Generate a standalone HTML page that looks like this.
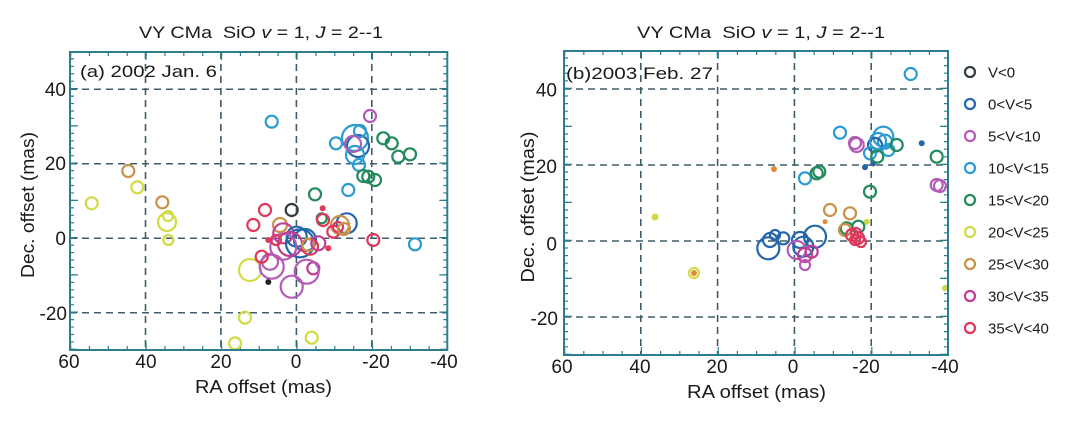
<!DOCTYPE html>
<html><head><meta charset="utf-8">
<style>
html,body{margin:0;padding:0;background:#fff;}
svg{display:block;}
text{font-family:"Liberation Sans",Arial,sans-serif;fill:#1a1a1a;}
.fr{fill:none;stroke:#2c7d8e;stroke-width:2;}
.tk{stroke:#2c7d8e;fill:none;}
.gd{stroke:#3f5d68;stroke-width:1.6;stroke-dasharray:7 5;fill:none;}
circle{fill:none;stroke-width:2.2;}
.k{stroke:#343c3c}.b{stroke:#2466aa}.p{stroke:#b25cb8}.c{stroke:#2b9bd2}.g{stroke:#228a5c}
.y{stroke:#d2da46}.o{stroke:#c8924a}.m{stroke:#c23c92}.r{stroke:#e0385a}
.kf{fill:#222;stroke:none}.bf{fill:#2466aa;stroke:none}.rf{fill:#e0385a;stroke:none}.of{fill:#e08a3a;stroke:none}.yf{fill:#d2d646;stroke:none}
</style></head>
<body>
<svg width="1075" height="423" viewBox="0 0 1075 423" xmlns="http://www.w3.org/2000/svg">
<rect width="1075" height="423" fill="#fff"/>

<!-- ================= LEFT PANEL ================= -->
<text x="139" y="38" font-size="17" textLength="244" lengthAdjust="spacingAndGlyphs" xml:space="preserve">VY CMa  SiO <tspan font-style="italic">v</tspan> = 1, <tspan font-style="italic">J</tspan> = 2--1</text>

<line class="gd" x1="145.5" y1="52" x2="145.5" y2="350"/>
<line class="gd" x1="220.9" y1="52" x2="220.9" y2="350"/>
<line class="gd" x1="296.4" y1="52" x2="296.4" y2="350"/>
<line class="gd" x1="371.8" y1="52" x2="371.8" y2="350"/>
<line class="gd" x1="70" y1="89.25" x2="447.3" y2="89.25"/>
<line class="gd" x1="70" y1="163.75" x2="447.3" y2="163.75"/>
<line class="gd" x1="70" y1="238.25" x2="447.3" y2="238.25"/>
<line class="gd" x1="70" y1="312.75" x2="447.3" y2="312.75"/>

<line class="tk" x1="72" y1="350" x2="72" y2="52" stroke-width="4" stroke-dasharray="1.2 6.25"/>
<line class="tk" x1="74" y1="350" x2="74" y2="52" stroke-width="8" stroke-dasharray="1.2 36.05"/>
<line class="tk" x1="445.3" y1="350" x2="445.3" y2="52" stroke-width="4" stroke-dasharray="1.2 6.25"/>
<line class="tk" x1="443.3" y1="350" x2="443.3" y2="52" stroke-width="8" stroke-dasharray="1.2 36.05"/>
<line class="tk" x1="70" y1="54" x2="447.3" y2="54" stroke-width="4" stroke-dasharray="1.2 17.67"/>
<line class="tk" x1="70" y1="56" x2="447.3" y2="56" stroke-width="8" stroke-dasharray="1.2 74.26"/>
<line class="tk" x1="70" y1="348" x2="447.3" y2="348" stroke-width="4" stroke-dasharray="1.2 17.67"/>
<line class="tk" x1="70" y1="346" x2="447.3" y2="346" stroke-width="8" stroke-dasharray="1.2 74.26"/>

<text x="80" y="77" font-size="17" textLength="137" lengthAdjust="spacingAndGlyphs">(a) 2002 Jan. 6</text>

<circle class="c" cx="271.7" cy="121.7" r="6"/>
<circle class="p" cx="370" cy="116" r="6"/>
<circle class="c" cx="336" cy="143.3" r="6"/>
<circle class="c" cx="355" cy="138" r="13"/>
<circle class="b" cx="358" cy="146" r="11"/>
<circle class="c" cx="355" cy="155" r="9"/>
<circle class="c" cx="360" cy="131" r="6"/>
<circle class="p" cx="353" cy="144" r="8"/>
<circle class="c" cx="359" cy="165" r="6"/>
<circle class="g" cx="383.3" cy="138.3" r="6"/>
<circle class="g" cx="391.7" cy="143.3" r="6"/>
<circle class="g" cx="398.3" cy="156.7" r="6"/>
<circle class="g" cx="410" cy="154.3" r="6"/>
<circle class="g" cx="363.3" cy="176" r="6"/>
<circle class="g" cx="368.3" cy="176.7" r="6"/>
<circle class="g" cx="375" cy="180" r="6"/>
<circle class="c" cx="348.3" cy="190" r="6"/>
<circle class="g" cx="315" cy="194.3" r="6"/>
<circle class="o" cx="128.3" cy="171" r="6"/>
<circle class="y" cx="137.3" cy="187.3" r="6"/>
<circle class="y" cx="91.7" cy="203.3" r="6"/>
<circle class="o" cx="162.3" cy="202.3" r="6"/>
<circle class="y" cx="167" cy="222" r="9"/>
<circle class="y" cx="168" cy="216" r="5"/>
<circle class="y" cx="168.3" cy="240" r="5"/>
<circle class="y" cx="250" cy="270" r="11"/>
<circle class="y" cx="245" cy="317.7" r="6"/>
<circle class="y" cx="235" cy="343.3" r="6"/>
<circle class="y" cx="311.7" cy="337.7" r="6"/>
<circle class="kf" cx="268.3" cy="282" r="3"/>
<circle class="k" cx="291.7" cy="210" r="6"/>
<circle class="r" cx="265" cy="210" r="6"/>
<circle class="r" cx="253.3" cy="225" r="6"/>
<circle class="rf" cx="322.7" cy="208.3" r="3"/>
<circle class="g" cx="321.7" cy="218.3" r="5"/>
<circle class="r" cx="323" cy="220" r="6"/>
<circle class="b" cx="346.7" cy="223.3" r="10"/>
<circle class="o" cx="340" cy="225" r="9"/>
<circle class="r" cx="333.3" cy="231.7" r="6"/>
<circle class="r" cx="338" cy="227" r="5"/>
<circle class="o" cx="344" cy="229" r="6"/>
<circle class="o" cx="280" cy="225" r="7"/>
<circle class="rf" cx="268.3" cy="240" r="3"/>
<circle class="m" cx="283.3" cy="233.3" r="10"/>
<circle class="b" cx="300" cy="243.3" r="14"/>
<circle class="b" cx="296.7" cy="236.7" r="10"/>
<circle class="b" cx="305" cy="240" r="11"/>
<circle class="p" cx="283.3" cy="246.7" r="13"/>
<circle class="m" cx="290" cy="244" r="12"/>
<circle class="r" cx="310" cy="246.7" r="8"/>
<circle class="o" cx="308.3" cy="245" r="6"/>
<circle class="m" cx="318.3" cy="243.3" r="7"/>
<circle class="rf" cx="328.3" cy="248.3" r="3"/>
<circle class="r" cx="373.3" cy="240" r="6"/>
<circle class="c" cx="415" cy="244.3" r="6"/>
<circle class="p" cx="270" cy="261.7" r="8"/>
<circle class="p" cx="271.7" cy="266.7" r="12"/>
<circle class="m" cx="313.3" cy="268.3" r="6"/>
<circle class="p" cx="306.7" cy="271.7" r="12"/>
<circle class="p" cx="291.7" cy="286.7" r="11"/>
<circle class="r" cx="261.7" cy="256.7" r="6"/>
<circle class="r" cx="276" cy="240" r="5"/>

<rect class="fr" x="70" y="52" width="377.3" height="298"/>

<g font-size="19" text-anchor="end">
<text x="66" y="96">40</text>
<text x="66" y="170">20</text>
<text x="66" y="245">0</text>
<text x="67" y="320">-20</text>
</g>
<g font-size="19" text-anchor="middle">
<text x="69" y="368">60</text>
<text x="146" y="368">40</text>
<text x="221" y="368">20</text>
<text x="296" y="368">0</text>
<text x="376" y="368">-20</text>
<text x="444" y="368">-40</text>
</g>
<text x="195" y="393" font-size="18" textLength="137" lengthAdjust="spacingAndGlyphs">RA offset (mas)</text>
<text transform="translate(34,205) rotate(-90)" font-size="18" text-anchor="middle" textLength="146" lengthAdjust="spacingAndGlyphs">Dec. offset (mas)</text>

<!-- ================= RIGHT PANEL ================= -->
<text x="637" y="38" font-size="17" textLength="248" lengthAdjust="spacingAndGlyphs" xml:space="preserve">VY CMa  SiO <tspan font-style="italic">v</tspan> = 1, <tspan font-style="italic">J</tspan> = 2--1</text>

<line class="gd" x1="640.8" y1="51" x2="640.8" y2="355"/>
<line class="gd" x1="717.6" y1="51" x2="717.6" y2="355"/>
<line class="gd" x1="794.4" y1="51" x2="794.4" y2="355"/>
<line class="gd" x1="871.2" y1="51" x2="871.2" y2="355"/>
<line class="gd" x1="564" y1="89" x2="948" y2="89"/>
<line class="gd" x1="564" y1="165" x2="948" y2="165"/>
<line class="gd" x1="564" y1="241" x2="948" y2="241"/>
<line class="gd" x1="564" y1="317" x2="948" y2="317"/>

<line class="tk" x1="566" y1="355" x2="566" y2="51" stroke-width="4" stroke-dasharray="1.2 6.4"/>
<line class="tk" x1="568" y1="355" x2="568" y2="51" stroke-width="8" stroke-dasharray="1.2 36.8"/>
<line class="tk" x1="946" y1="355" x2="946" y2="51" stroke-width="4" stroke-dasharray="1.2 6.4"/>
<line class="tk" x1="944" y1="355" x2="944" y2="51" stroke-width="8" stroke-dasharray="1.2 36.8"/>
<line class="tk" x1="564" y1="53" x2="948" y2="53" stroke-width="4" stroke-dasharray="1.2 18"/>
<line class="tk" x1="564" y1="55" x2="948" y2="55" stroke-width="8" stroke-dasharray="1.2 75.6"/>
<line class="tk" x1="564" y1="353" x2="948" y2="353" stroke-width="4" stroke-dasharray="1.2 18"/>
<line class="tk" x1="564" y1="351" x2="948" y2="351" stroke-width="8" stroke-dasharray="1.2 75.6"/>

<text x="566" y="79" font-size="17" textLength="147" lengthAdjust="spacingAndGlyphs">(b)2003 Feb. 27</text>

<circle class="c" cx="910.7" cy="74" r="6"/>
<circle class="c" cx="840" cy="132.7" r="6"/>
<circle class="p" cx="856.7" cy="145" r="7"/>
<circle class="p" cx="855" cy="143" r="6"/>
<circle class="c" cx="883.3" cy="136.7" r="10"/>
<circle class="c" cx="885" cy="141.7" r="7"/>
<circle class="b" cx="875" cy="145" r="7"/>
<circle class="c" cx="870" cy="153.3" r="6"/>
<circle class="c" cx="888.3" cy="150" r="6"/>
<circle class="c" cx="878" cy="141" r="8"/>
<circle class="g" cx="896.7" cy="145" r="6"/>
<circle class="g" cx="877.3" cy="156.7" r="6"/>
<circle class="bf" cx="921.7" cy="143.3" r="3"/>
<circle class="g" cx="936.7" cy="156.7" r="6"/>
<circle class="bf" cx="865" cy="167.3" r="3"/>
<circle class="bf" cx="873.3" cy="164" r="2.5"/>
<circle class="c" cx="805" cy="178.3" r="6"/>
<circle class="g" cx="816.7" cy="173.3" r="6"/>
<circle class="g" cx="819.3" cy="171.7" r="6"/>
<circle class="p" cx="936.7" cy="185" r="6"/>
<circle class="p" cx="940" cy="186" r="6"/>
<circle class="g" cx="870" cy="191.7" r="6"/>
<circle class="of" cx="774" cy="169" r="3"/>
<circle class="yf" cx="655" cy="217" r="3.5"/>
<circle class="y" cx="694" cy="273" r="5" stroke-width="2.5"/>
<circle class="of" cx="694" cy="273" r="3"/>
<circle class="o" cx="830" cy="210" r="6"/>
<circle class="o" cx="850" cy="213.3" r="6"/>
<circle class="of" cx="825" cy="221.7" r="2.5"/>
<circle class="yf" cx="866.7" cy="221.7" r="3"/>
<circle class="g" cx="846.7" cy="228.3" r="6"/>
<circle class="g" cx="858.3" cy="226.7" r="6"/>
<circle class="o" cx="845" cy="230" r="6"/>
<circle class="r" cx="852" cy="235" r="6"/>
<circle class="r" cx="858" cy="238" r="6"/>
<circle class="r" cx="855" cy="240" r="5"/>
<circle class="r" cx="861" cy="242" r="5"/>
<circle class="r" cx="856" cy="233" r="5"/>
<circle class="b" cx="770" cy="240" r="7"/>
<circle class="b" cx="768.3" cy="248.3" r="11"/>
<circle class="b" cx="775" cy="235" r="5"/>
<circle class="b" cx="783.3" cy="238.3" r="6"/>
<circle class="b" cx="803.3" cy="246.7" r="10"/>
<circle class="b" cx="815" cy="236.7" r="11"/>
<circle class="b" cx="800" cy="240" r="8"/>
<circle class="p" cx="796.7" cy="250" r="9"/>
<circle class="m" cx="805" cy="255" r="7"/>
<circle class="m" cx="811.7" cy="251.7" r="6"/>
<circle class="p" cx="805" cy="265" r="5"/>
<circle class="yf" cx="945" cy="288.3" r="3"/>

<rect class="fr" x="564" y="51" width="384" height="304"/>

<g font-size="19" text-anchor="end">
<text x="557" y="96.5">40</text>
<text x="557" y="173">20</text>
<text x="557" y="250.5">0</text>
<text x="558" y="325">-20</text>
</g>
<g font-size="19" text-anchor="middle">
<text x="562" y="373">60</text>
<text x="640" y="373">40</text>
<text x="717" y="373">20</text>
<text x="793" y="373">0</text>
<text x="866" y="373">-20</text>
<text x="945" y="373">-40</text>
</g>
<text x="687" y="398" font-size="18" textLength="139" lengthAdjust="spacingAndGlyphs">RA offset (mas)</text>
<text transform="translate(534,207) rotate(-90)" font-size="18" text-anchor="middle" textLength="151" lengthAdjust="spacingAndGlyphs">Dec. offset (mas)</text>

<!-- legend -->
<circle class="k" cx="970" cy="72" r="5"/>
<circle class="b" cx="970" cy="104" r="5"/>
<circle class="p" cx="970" cy="136" r="5"/>
<circle class="c" cx="970" cy="168" r="5"/>
<circle class="g" cx="970" cy="200" r="5"/>
<circle class="y" cx="970" cy="232" r="5"/>
<circle class="o" cx="970" cy="264" r="5"/>
<circle class="m" cx="970" cy="296" r="5"/>
<circle class="r" cx="970" cy="328" r="5"/>
<g font-size="15">
<text x="988" y="77.5">V&lt;0</text>
<text x="988" y="109.5">0&lt;V&lt;5</text>
<text x="988" y="141.5">5&lt;V&lt;10</text>
<text x="988" y="173.5">10&lt;V&lt;15</text>
<text x="988" y="205.5">15&lt;V&lt;20</text>
<text x="988" y="237.5">20&lt;V&lt;25</text>
<text x="988" y="269.5">25&lt;V&lt;30</text>
<text x="988" y="301.5">30&lt;V&lt;35</text>
<text x="988" y="333.5">35&lt;V&lt;40</text>
</g>
</svg>
</body></html>
